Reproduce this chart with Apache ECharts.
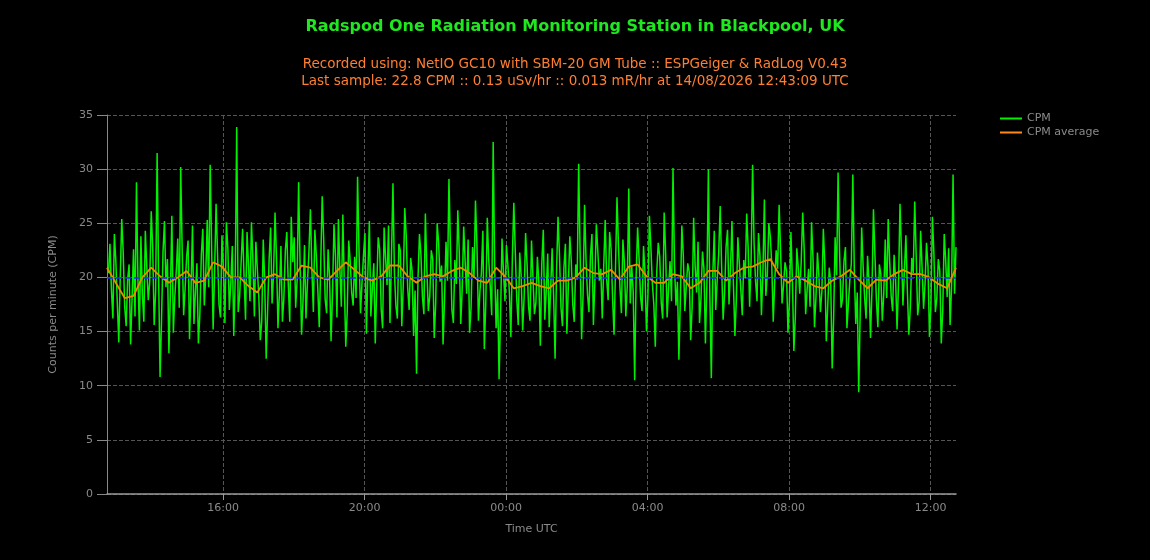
<!DOCTYPE html>
<html lang="en">
<head>
	<meta charset="UTF-8">
	<title>Radspod One CPM</title>
	<script src="https://cdn.jsdelivr.net/npm/echarts@6/dist/echarts.min.js"></script>
</head>
<body style="margin:0;background:#000;">
	<div id="chart" style="width:1150px;height:560px;"></div>
<script type="text/javascript">
	// last sample time, the chart covers the 24 hours before it
	const lastSample = '2026-08-14T12:43:09Z';

	// CPM readings, one every 2.5 minutes (one row per hour)
	const cpm = [
		20.4, 23.1, 18.9, 16.2, 24.0, 21.5, 17.6, 14.0, 20.1, 25.4, 22.3, 17.3, 15.5, 19.8, 21.2, 13.8, 18.0, 22.6, 16.4, 28.8, 19.7, 15.1, 23.8, 18.4,
		15.9, 24.3, 21.0, 17.9, 19.6, 26.1, 22.8, 15.6, 18.7, 31.5, 20.3, 10.8, 16.1, 22.4, 25.2, 19.1, 21.7, 13.0, 18.4, 25.7, 14.9, 18.2, 20.6, 23.6,
		17.2, 30.2, 22.6, 16.5, 19.0, 21.9, 23.4, 14.3, 18.8, 24.8, 15.7, 18.7, 21.3, 13.9, 16.6, 22.1, 24.5, 17.4, 20.2, 25.3, 19.1, 30.4, 22.7, 15.2,
		20.6, 26.8, 22.2, 17.5, 16.3, 23.9, 20.8, 15.8, 25.1, 22.7, 17.0, 19.4, 22.9, 14.6, 19.9, 33.9, 16.8, 18.3, 21.4, 24.5, 20.0, 16.1, 24.2, 21.2,
		17.8, 25.1, 21.6, 16.4, 23.3, 20.8, 18.2, 14.2, 16.0, 23.5, 19.6, 12.5, 17.1, 21.7, 24.6, 17.6, 20.3, 26.0, 21.8, 15.3, 18.6, 22.9, 15.9, 18.1,
		22.5, 24.2, 19.3, 15.9, 25.6, 21.4, 23.7, 17.2, 19.8, 28.8, 21.1, 14.7, 17.9, 23.0, 16.2, 19.5, 22.4, 26.3, 20.7, 16.8, 24.4, 22.1, 19.0, 15.4,
		21.2, 27.5, 23.6, 18.0, 16.7, 22.6, 20.1, 14.1, 18.5, 24.9, 22.0, 16.3, 25.4, 20.7, 17.3, 25.8, 19.4, 13.6, 16.9, 23.4, 21.5, 18.6, 17.4, 21.9,
		18.1, 29.3, 22.4, 16.7, 19.5, 22.0, 24.1, 14.8, 20.5, 25.2, 16.4, 18.9, 21.3, 13.9, 19.2, 23.7, 22.6, 17.1, 15.3, 24.6, 21.8, 19.3, 24.8, 15.8,
		21.9, 28.7, 20.4, 17.4, 16.2, 23.1, 22.5, 15.5, 19.3, 26.4, 23.9, 19.0, 17.0, 21.8, 20.6, 14.6, 18.8, 11.1, 19.9, 24.0, 22.1, 18.2, 16.6, 25.9,
		20.8, 16.9, 18.3, 22.5, 21.7, 14.4, 17.6, 25.0, 23.2, 19.6, 21.1, 13.8, 18.0, 23.3, 19.7, 29.1, 22.8, 17.0, 15.8, 21.6, 19.4, 26.2, 22.3, 15.7,
		19.0, 24.7, 21.4, 18.5, 23.5, 14.9, 17.2, 22.8, 20.0, 27.1, 22.9, 16.0, 18.7, 20.4, 24.3, 13.4, 17.7, 25.5, 21.6, 19.2, 16.5, 32.5, 20.9, 15.3,
		18.9, 10.6, 16.4, 23.6, 20.5, 17.8, 23.0, 21.1, 18.6, 14.5, 21.8, 26.9, 22.4, 18.0, 15.6, 22.3, 20.1, 15.1, 18.2, 24.1, 21.2, 17.3, 16.0, 23.4,
		20.0, 16.6, 17.7, 21.9, 19.5, 13.7, 21.3, 24.4, 16.1, 18.8, 22.2, 15.4, 19.0, 22.7, 18.4, 12.5, 20.7, 25.6, 22.0, 17.2, 15.5, 20.9, 23.1, 14.8,
		19.2, 23.8, 21.5, 17.5, 15.9, 21.2, 19.8, 30.5, 22.1, 14.3, 18.5, 26.7, 21.6, 18.4, 16.8, 22.0, 24.0, 15.6, 19.6, 24.9, 22.4, 19.7, 20.8, 16.2,
		21.0, 25.3, 19.8, 17.9, 24.2, 22.6, 18.1, 14.7, 20.9, 27.4, 23.0, 19.1, 16.7, 23.5, 21.4, 16.4, 19.3, 28.2, 17.6, 21.0, 18.7, 10.5, 20.2, 24.6,
		21.7, 18.2, 16.9, 22.9, 20.4, 15.0, 18.3, 25.7, 22.8, 19.4, 17.5, 13.6, 20.6, 23.2, 21.9, 17.7, 16.2, 26.0, 22.3, 16.3, 19.0, 21.5, 17.8, 30.1,
		21.2, 17.4, 19.6, 12.4, 18.0, 24.8, 22.0, 16.9, 19.2, 21.3, 20.5, 14.2, 17.3, 25.5, 21.1, 18.6, 23.3, 15.8, 18.1, 22.4, 20.8, 13.9, 19.5, 30.0,
		18.4, 10.7, 20.3, 24.3, 17.0, 19.8, 22.2, 26.6, 21.0, 16.1, 18.6, 22.8, 24.4, 17.5, 20.7, 25.2, 19.4, 14.6, 18.0, 23.7, 21.3, 18.9, 16.5, 21.6,
		19.9, 25.9, 22.7, 17.3, 21.6, 30.4, 23.2, 19.7, 17.8, 24.1, 22.0, 16.5, 20.4, 27.2, 18.3, 20.3, 25.0, 23.8, 21.2, 15.9, 19.6, 22.5, 20.8, 26.7,
		22.4, 17.6, 19.3, 21.4, 20.6, 14.9, 17.8, 24.2, 19.8, 13.2, 16.4, 22.7, 20.9, 18.5, 21.5, 26.0, 22.6, 16.6, 18.9, 20.8, 17.3, 25.1, 21.7, 15.4,
		18.2, 22.3, 20.1, 16.8, 18.7, 24.5, 21.2, 14.1, 17.4, 20.9, 19.6, 11.6, 16.3, 23.7, 20.2, 29.7, 22.5, 17.2, 18.0, 21.5, 22.8, 15.3, 17.6, 19.8,
		21.3, 29.5, 20.7, 15.7, 18.6, 9.4, 16.7, 24.6, 21.0, 18.1, 16.2, 22.0, 19.5, 14.4, 18.9, 26.3, 22.1, 17.9, 15.4, 21.2, 20.3, 16.0, 18.5, 23.5,
		18.1, 25.4, 21.5, 18.3, 16.9, 22.1, 20.0, 15.2, 19.3, 26.8, 22.4, 17.4, 20.6, 23.9, 18.8, 14.7, 17.2, 21.8, 20.4, 27.0, 21.9, 16.5, 17.7, 24.3,
		20.9, 17.1, 19.4, 23.2, 21.0, 14.5, 17.5, 25.6, 22.2, 16.8, 18.1, 21.7, 20.6, 13.9, 16.9, 24.0, 21.6, 18.2, 22.7, 15.6, 19.2, 29.5, 18.5, 22.8
	];

	// CPM average, one every 15 minutes
	const cpmAverage = [
		20.9, 19.5, 18.1, 18.3, 20.0, 20.9, 20.1, 19.5, 20.0, 20.6, 19.5, 19.7, 21.4, 21.0,
		20.0, 20.0, 19.2, 18.6, 20.0, 20.3, 19.8, 19.8, 21.1, 20.9, 20.0, 19.8, 20.6, 21.4, 20.7, 20.0,
		19.7, 20.1, 21.1, 21.1, 20.1, 19.5, 20.1, 20.3, 20.1, 20.6, 20.9, 20.4, 19.7, 19.5, 20.9, 20.1,
		19.0, 19.2, 19.5, 19.2, 19.0, 19.7, 19.7, 20.0, 20.9, 20.4, 20.3, 20.7, 19.8, 21.0, 21.2, 20.1,
		19.5, 19.5, 20.3, 20.1, 19.0, 19.5, 20.6, 20.6, 19.7, 20.4, 20.9, 21.0, 21.4, 21.7, 20.3, 19.5,
		20.1, 19.7, 19.2, 19.0, 19.7, 20.1, 20.7, 19.8, 19.0, 19.8, 19.7, 20.3, 20.7, 20.3, 20.3, 20.0,
		19.4, 19.0, 20.9
	];

	const yTicks = { min: 0, max: 35, interval: 5 };
	const meanLine = 20;

	const endMs = new Date(lastSample).getTime();
	const startMs = endMs - 24 * 3600 * 1000;

	// pair each value with its time, counting back from the last sample
	function timed(values, stepMinutes) {
		const n = values.length;
		return values.map(function (v, i) {
			return [endMs - (n - 1 - i) * stepMinutes * 60000, v];
		});
	}

	const grey = '#8a8a8a';
	const font = 'DejaVu Sans, sans-serif';

	let myChart = echarts.init(document.getElementById('chart'));
	myChart.setOption({
		backgroundColor: '#000',
		animation: false,
		textStyle: { fontFamily: font },
		title: {
			left: 'center',
			top: 14,
			text: 'Radspod One Radiation Monitoring Station in Blackpool, UK',
			textStyle: { color: '#1ee81e', fontSize: 16, fontWeight: 'bold', fontFamily: font },
			subtext: 'Recorded using: NetIO GC10 with SBM-20 GM Tube :: ESPGeiger & RadLog V0.43\nLast sample: 22.8 CPM :: 0.13 uSv/hr :: 0.013 mR/hr at 14/08/2026 12:43:09 UTC',
			subtextStyle: { color: '#ff7f32', fontSize: 13.5, lineHeight: 17, fontFamily: font },
			itemGap: 21
		},
		legend: {
			orient: 'vertical',
			left: 995,
			top: 108,
			icon: 'rect',
			itemWidth: 22,
			itemHeight: 2,
			itemGap: 3,
			textStyle: { color: grey, fontSize: 11 },
			data: ['CPM', 'CPM average']
		},
		grid: { left: 107, right: 194, top: 115, bottom: 66 },
		xAxis: {
			type: 'time',
			min: startMs,
			max: endMs,
			splitNumber: 6,
			name: 'Time UTC',
			nameLocation: 'middle',
			nameGap: 30,
			nameTextStyle: { color: grey, fontSize: 11 },
			axisLine: { lineStyle: { color: '#999', width: 1.5 } },
			axisTick: { show: true, length: 6, lineStyle: { color: '#999' } },
			axisLabel: {
				color: grey,
				fontSize: 11,
				margin: 9,
				formatter: function (value) {
					return echarts.time.format(value, '{HH}:{mm}', true);
				}
			},
			splitLine: { show: true, showMinLine: false, showMaxLine: false, lineStyle: { color: '#555', type: 'dashed' } }
		},
		yAxis: {
			type: 'value',
			min: yTicks.min,
			max: yTicks.max,
			interval: yTicks.interval,
			name: 'Counts per minute (CPM)',
			nameLocation: 'middle',
			nameGap: 48,
			nameTextStyle: { color: grey, fontSize: 11 },
			axisLine: { show: true, lineStyle: { color: '#888' } },
			axisTick: { show: true, length: 10, lineStyle: { color: '#888' } },
			axisLabel: { color: grey, fontSize: 11, margin: 14 },
			splitLine: { show: true, lineStyle: { color: '#555', type: 'dashed' } }
		},
		series: [
			{
				name: 'CPM',
				type: 'line',
				symbol: 'none',
				color: '#00f000',
				lineStyle: { width: 1.5, color: '#00f000' },
				data: timed(cpm, 2.5),
				markLine: {
					silent: true,
					symbol: 'none',
					label: { show: false },
					lineStyle: { color: '#1a2cff', type: 'dashed', width: 1.5 },
					data: [{ yAxis: meanLine }]
				}
			},
			{
				name: 'CPM average',
				type: 'line',
				symbol: 'none',
				color: '#ff8a1a',
				lineStyle: { width: 1.8, color: '#f08a00' },
				data: timed(cpmAverage, 15),
				z: 3
			}
		]
	});
</script>
</body>
</html>
